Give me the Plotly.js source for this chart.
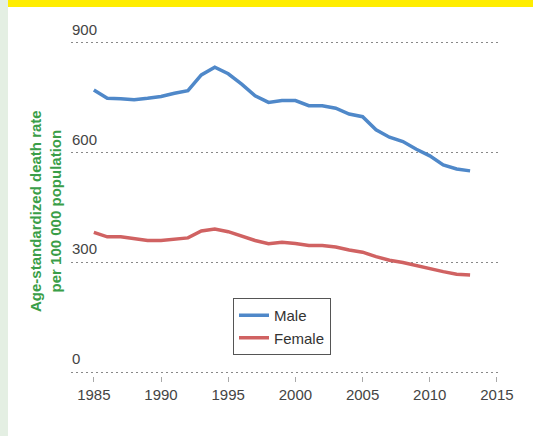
<!DOCTYPE html>
<html>
<head>
<meta charset="utf-8">
<script src="https://cdn.plot.ly/plotly-3.0.1.min.js"></script>
<style>
  html, body { margin: 0; padding: 0; background: #ffffff; }
  #chart { width: 533px; height: 436px; }
</style>
</head>
<body>
<div id="chart"></div>
<script>
const years = [1985,1986,1987,1988,1989,1990,1991,1992,1993,1994,1995,1996,1997,1998,1999,
               2000,2001,2002,2003,2004,2005,2006,2007,2008,2009,2010,2011,2012,2013];
const male = [771,748,747,744,748,753,762,769,812,833,815,787,755,737,742,
              742,728,728,721,705,698,662,642,630,609,591,566,555,550];
const female = [382,370,370,366,360,360,364,367,386,391,384,372,360,351,355,
                352,346,346,342,334,328,316,306,300,291,284,275,268,266];
const seriesNames = ["Male", "Female"];
const xTicks = [1985,1990,1995,2000,2005,2010,2015];
const yTicks = [0,300,600,900];
const yTitle = "Age-standardized death rate<br>per 100 000 population";

const FONT = "'Liberation Sans', Arial, sans-serif";

// plot area pixel geometry
const L = 71, R = 32, T = 39, B = 60;
const W = 533 - L - R, H = 436 - T - B;
const px = p => (p - L) / W;
const py = q => (436 - B - q) / H;

const traces = [
  { x: years, y: male, name: seriesNames[0], type: 'scatter', mode: 'lines',
    line: { color: '#4f88c9', width: 3.5 } },
  { x: years, y: female, name: seriesNames[1], type: 'scatter', mode: 'lines',
    line: { color: '#d06262', width: 3.5 } }
];

const yLabelAnns = yTicks.map(v => ({
  xref: 'paper', yref: 'y', x: 0, y: v, text: String(v),
  showarrow: false, xanchor: 'left', yanchor: 'bottom', yshift: 4, borderpad: 0,
  font: { family: FONT, size: 15, color: '#444444' }
}));

const layout = {
  width: 533, height: 436,
  margin: { l: L, r: R, t: T, b: B },
  paper_bgcolor: '#ffffff', plot_bgcolor: '#ffffff',
  font: { family: FONT, size: 15, color: '#444444' },
  showlegend: true,
  legend: {
    x: px(233), y: py(298), xanchor: 'left', yanchor: 'top',
    bgcolor: '#ffffff', bordercolor: '#555555', borderwidth: 1,
    font: { family: FONT, size: 15, color: '#333333' },
    tracegroupgap: 0
  },
  xaxis: {
    range: [1983.3, 2015.3],
    tickvals: xTicks, ticktext: xTicks.map(String),
    showgrid: false, zeroline: false, showline: false,
    ticks: 'outside', ticklen: 5, tickwidth: 1, tickcolor: '#aaaaaa',
    tickfont: { family: FONT, size: 15, color: '#444444' },
    fixedrange: true
  },
  yaxis: {
    range: [-10, 910],
    tickvals: yTicks, showticklabels: false,
    showgrid: true, gridcolor: '#888888', gridwidth: 1.5, griddash: '1.5px,3.5px',
    zeroline: false, showline: false, ticks: '',
    fixedrange: true
  },
  annotations: [
    { xref: 'paper', yref: 'paper', x: px(45), y: py(211),
      text: yTitle, showarrow: false, textangle: -90,
      xanchor: 'center', yanchor: 'middle',
      font: { family: FONT, size: 15, weight: 'bold', color: '#3a9e48' } }
  ].concat(yLabelAnns),
  shapes: [
    { type: 'rect', xref: 'paper', yref: 'paper', layer: 'below',
      x0: px(0), x1: px(8), y0: py(436), y1: py(0),
      fillcolor: '#e4efe3', line: { width: 0 } },
    { type: 'rect', xref: 'paper', yref: 'paper', layer: 'below',
      x0: px(8), x1: px(533), y0: py(7), y1: py(0),
      fillcolor: '#ffed00', line: { width: 0 } }
  ]
};

Plotly.newPlot('chart', traces, layout, { displayModeBar: false, staticPlot: true });
</script>
</body>
</html>
